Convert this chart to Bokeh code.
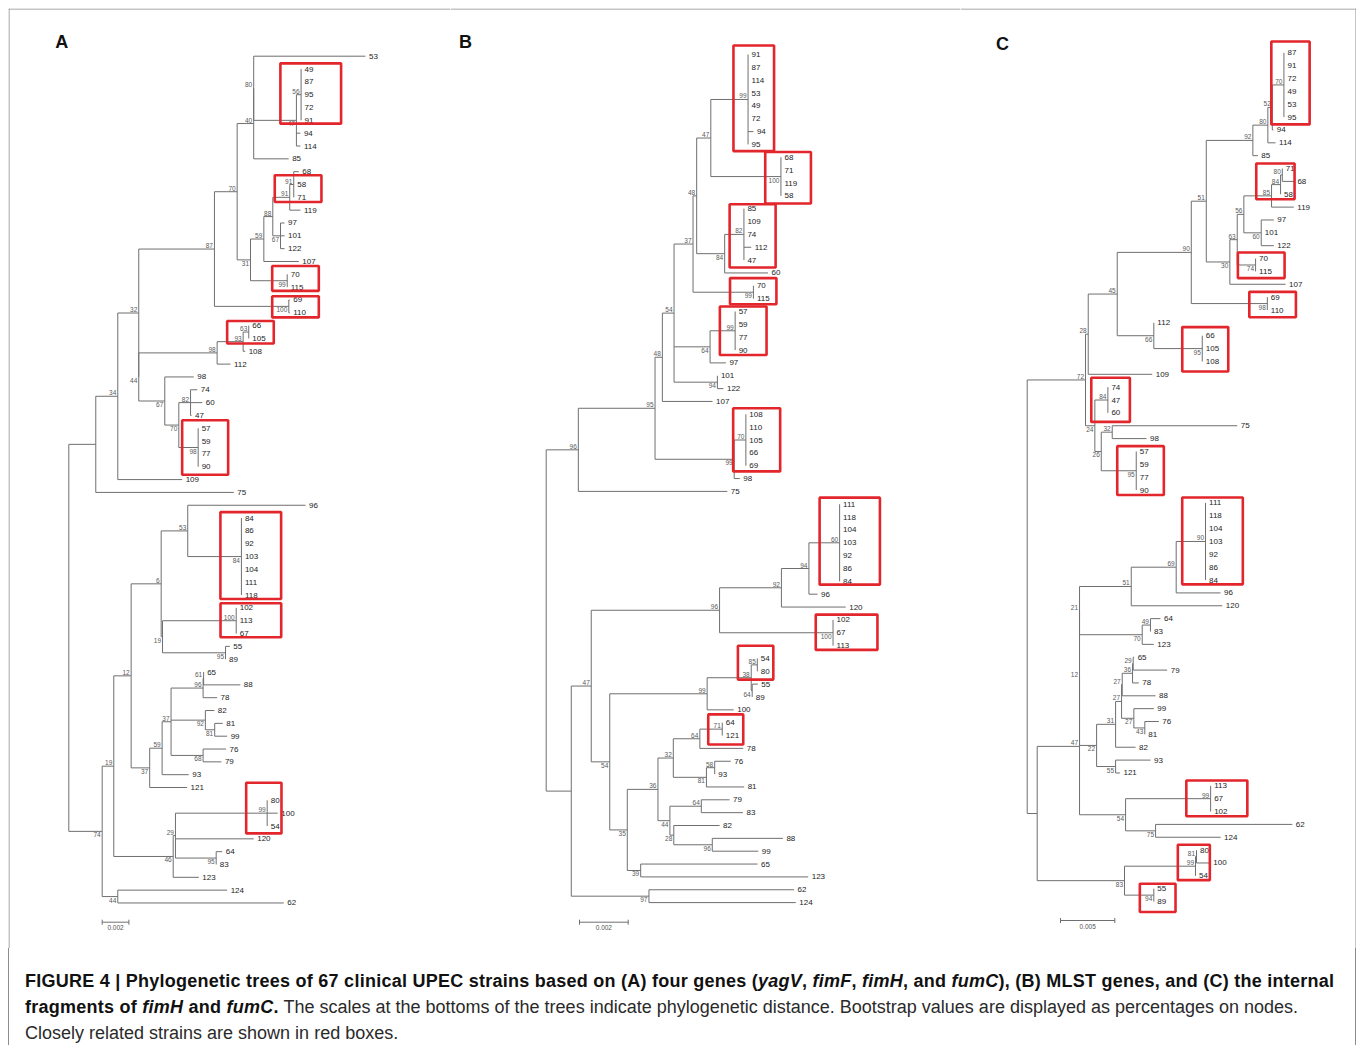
from bokeh.plotting import figure
from bokeh.models import ColumnDataSource, Range1d, Label, Div
from bokeh.layouts import row, column
from bokeh.embed import file_html
from bokeh.resources import INLINE
from bokeh.core.properties import value

# ---------------------------------------------------------------- data
# Trees in Newick form; branch lengths in units of BRANCH_UNIT substitutions/site,
# internal node labels are bootstrap percentages.
BRANCH_UNIT = 1e-4

TREE_A = """
(
  (
    (
      (
        (
          (
            (
              (53:83.7,
               ((49:0,87:0,95:0,72:0,91:0)56:3.5,94:3.0,114:3.0)47:32.0
              )80:0,
              85:26.2
            )40:12.4,
            (
              (
                (
                  ((68:3.7,58:0,71:0)91:3.0,119:8.0)91:12.7,
                  (97:3.0,101:3.0,122:3.0)67:5.8
                )88:6.7,
                107:26.2
              )59:10.0,
              (70:0,115:0)99:27.5
            )31:10.0
          )70:17.0,
          (69:0.7,110:0.7)100:55.7
        )87:56.7,
        (
          (((66:0,105:0)63:4.2,108:1.5)93:19.5,112:10.0)98:58.7,
          (98:21.7,
           ((74:5.0,60:8.8,47:0.7)82:8.8,(57:0,59:0,77:0,90:0)98:14.5)70:10.5
          )67:19.5
        )44:0
      )32:15.7,
      109:48.2
    )34:16.5,
    75:103.4
  ):20.2,
  (
    (
      (
        (
          (96:88.2,(84:0,86:0,92:0,103:0,104:0,111:0,118:0)84:40.2)53:19.9,
          ((102:0,113:0,67:0)100:55.2,(55:3.2,89:0)95:47.2)19:1.0
        )6:22.5,
        (
          (
            (
              ((65:0,88:27.5)61:0.4,78:10.5)96:24.0,
              (82:6.7,(81:6.0,99:9.3)81:7.0)92:25.7,
              (76:17.2,79:13.7)68:24.0
            )37:6.7,
            93:19.9
          )59:9.3,
          121:28.0
        )37:13.9
      )12:13.0,
      (
        ((80:0,100:7.9,54:0)99:68.7,120:58.6,(64:4.5,83:0)95:30.5)29:1.7,
        123:19.2
      )46:44.5
    )19:8.7,
    (124:81.9,62:124.3)44:11.7
  )74:25.0
);
"""

TREE_B = """
(
  (
    (
      (
        (
          (
            (
              ((91:0,87:0,114:0,53:0,49:0,72:0,94:2.2,95:0)99:15.3,
               (68:0,71:0,119:0,58:0)100:28.8)47:5.8,
              ((85:0,109:0,74:0,112:3.0,47:0)82:7.9,60:17.8)84:11.5
            )48:1.5,
            (70:0,115:0)99:24.8
          )37:7.8,
          ((57:0,59:0,77:0,90:0)99:10.3,97:6.5)64:14.8,
          (101:0,122:2.5)94:17.8
        )54:4.8,
        107:20.6
      )48:3.0,
      ((108:0,110:0,105:0,66:0,69:0)70:4.8,98:2.3)99:32.5
    )95:31.5,
    75:61.2
  )96:13.2,
  (
    (
      (
        (((111:0,118:0,104:0,103:0,92:0,86:0,84:0)60:12.6,96:3.5)94:11.3,120:26.4)92:25.4,
        (102:0,67:0,113:0)100:46.6
      )96:52.7,
      (
        (((54:0,80:0)85:2.5,(55:2.3,89:0)64:0.4)38:18.1,100:10.9)99:40.0,
        (
          (
            (((64:0,121:0)71:9.2,78:17.8)64:10.9,((76:6.6,93:0)58:3.4,81:15.5)81:13.6)32:6.3,
            ((79:11.6,83:17.1)64:12.9,(82:18.8,(88:29.0,99:18.9)96:15.8)28:1.6)44:4.9
          )36:12.6,
          (65:48.0,123:68.8)39:5.5
        )35:7.2
      )54:7.6
    )47:8.2,
    (62:59.6,124:60.3)97:31.9
  ):10.3
);
"""

TREE_C = """
(
  (
    (
      (
        (
          (
            ((((87:0,91:0,72:0,49:0,53:0,95:0)70:10.7,94:0.9)52:4.1,114:7.1)80:13.8,85:4.6)92:42.9,
            (
              (
                (
                  (((71:0,68:10.7)80:1.6,58:0)84:8.3,119:20.5)85:25.5,
                  (97:11.6,101:0,122:11.6)60:16.0
                )56:6.1,
                (70:0,115:0)74:16.9
              )63:6.8,
              107:51.3
            )30:21.7
          )51:13.8,
          (69:0,110:0)98:70.0
        )90:68.2,
        (112:0,(66:0,105:0,108:0)95:44.6)66:33.7
      )45:26.7,
      109:58.9
    )28:2.5,
    (
      (74:0,47:0,60:0)84:12.0,
      ((75:115.1,98:31.6)32:10.1,(57:0,59:0,77:0,90:0)95:32.2)26:5.9
    )24:8.6
  )72:53.7,
  (
    (
      (
        (
          (((111:0,118:0,104:0,103:0,92:0,86:0,84:0)90:27.0,96:40.8)69:41.4,120:83.8)51:47.6,
          ((64:9.2,83:0)49:7.6,123:10.7)70:57.7
        )21:0,
        (
          (
            (
              (((65:0.9,79:31.3)29:0.6,78:5.8)36:9.5,88:30.7)27:0.6,
              (99:18.4,(76:12.9,81:0)43:10.1)27:11.3
            )27:5.5,
            82:18.4
          )31:17.5,
          (93:32.2,121:4.0)55:17.5
        )22:15.7
      )12:0,
      ((113:0,67:0,102:0)99:78.3,(62:125.9,124:59.9)75:27.6)54:42.4
    )47:39.0,
    (((80:0,100:12.2)81:0.9,54:0)99:65.4,(55:0,89:0)94:27.0)83:80.4
  ):9.2
);
"""

PANEL_LETTERS = ["A", "B", "C"]
SCALE_VALUES = [0.002, 0.002, 0.005]

# closely related strains (red boxes): first and last strain of each group
BOXES_A = [("49", "91"), ("58", "71"), ("70", "115"), ("69", "110"), ("66", "105"),
           ("57", "90"), ("84", "118"), ("102", "67"), ("80", "54")]
BOXES_B = [("91", "95"), ("68", "58"), ("85", "47"), ("70", "115"), ("57", "90"),
           ("108", "69"), ("111", "84"), ("102", "113"), ("54", "80"), ("64", "121")]
BOXES_C = [("87", "95"), ("71", "58"), ("70", "115"), ("69", "110"), ("66", "108"),
           ("74", "60"), ("57", "90"), ("111", "84"), ("113", "102"), ("80", "54"), ("55", "89")]

CAPTION_BOLD_1 = ("FIGURE 4 | Phylogenetic trees of 67 clinical UPEC strains based on (A) four genes "
                  "(<i>yagV</i>, <i>fimF</i>, <i>fimH</i>, and <i>fumC</i>), (B) MLST genes, and (C) the internal")
CAPTION_BOLD_2 = "fragments of <i>fimH</i> and <i>fumC</i>."
CAPTION_TEXT_2 = (" The scales at the bottoms of the trees indicate phylogenetic distance. "
                  "Bootstrap values are displayed as percentages on nodes.")
CAPTION_TEXT_3 = "Closely related strains are shown in red boxes."

# ---------------------------------------------------------------- layout / style
FONT = "Liberation Sans"
LINE_COLOR = "#6f6f6f"
BOX_COLOR = "#e3262c"
FRAME_COLOR = "#8c8c8c"
FIG_H = 940
TOTAL_W = 1348

# box padding in pixels: (left of clade node, width, above first, below last)
BOX_PX = [
    [(20.7, 60.7, 5.7, 3.3), (19, 46.7, 9.3, 4.7), (15, 46.6, 8.3, 3.7), (16.6, 46.6, 3.7, 4.6),
     (21.6, 46.6, 4.6, 5), (16, 46, 8, 8), (21, 60.7, 6, 4), (15.7, 60.7, 4.6, 3.7), (21, 35.3, 17.6, 7.4)],
    [(14.6, 40.6, 9, 6.7), (15.7, 45.7, 5.3, 7.7), (14.3, 46, 4.4, 7.4), (23.4, 46.4, 7.7, 5.6),
     (15.3, 46.7, 5, 5), (12.7, 47, 6, 5.7), (20, 60.3, 6.6, 3.3), (17.3, 61.7, 5.3, 4.3),
     (19.4, 35.4, 12.7, 8.3), (14, 35, 8.3, 9)],
    [(12.6, 38.3, 11.3, 7.3), (24.3, 38.3, 5, 5), (17.7, 46.7, 6, 6.7), (18, 46.6, 5.3, 7.3),
     (20, 46, 8.6, 10), (16.6, 38.6, 9.4, 9), (19, 46.6, 5.3, 5), (23.3, 60.6, 5.4, 4.3),
     (24.3, 61, 5.3, 4.7), (17.7, 32, 5.4, 4.3), (14, 35.7, 5, 10.4)],
]

PANEL_LAYOUT = [
    dict(width=442, root_px=60.3, px_per_unit=26.7 / 20, top_px=47.7, row_px=12.83,
         letter=(53.3, 33.5), bar_px=33.4, bar_y_px=913.7),
    dict(width=510, root_px=95.7, px_per_unit=48.7 / 20, top_px=46.0, row_px=12.85,
         letter=(15.0, 33.0), bar_px=33.3, bar_y_px=913.7),
    dict(width=396, root_px=66.7, px_per_unit=54.3 / 50, top_px=44.3, row_px=12.86,
         letter=(42.0, 35.0), bar_px=33.3, bar_y_px=912.0),
]


def parse_newick(text):
    s = "".join(text.split()).rstrip(";")
    pos = 0

    def node():
        nonlocal pos
        n = {"children": [], "label": "", "length": 0.0}
        if s[pos] == "(":
            pos += 1
            while True:
                n["children"].append(node())
                if s[pos] == ",":
                    pos += 1
                    continue
                pos += 1  # ')'
                break
        start = pos
        while pos < len(s) and s[pos] not in ":,()":
            pos += 1
        n["label"] = s[start:pos]
        if pos < len(s) and s[pos] == ":":
            pos += 1
            start = pos
            while pos < len(s) and s[pos] not in ",()":
                pos += 1
            n["length"] = float(s[start:pos])
        return n

    return node()


def make_panel(tree_text, letter, scale_value, boxes, box_px, lay, left_frame, right_frame):
    root = parse_newick(tree_text)
    leaves, internals = [], []

    def walk(n, x):
        n["x"] = x
        if n["children"]:
            internals.append(n)
            for c in n["children"]:
                walk(c, x + c["length"])
            n["y"] = (n["children"][0]["y"] + n["children"][-1]["y"]) / 2.0
            n["lo"] = n["children"][0]["lo"]
            n["hi"] = n["children"][-1]["hi"]
        else:
            n["y"] = float(len(leaves))
            n["lo"] = n["hi"] = len(leaves)
            leaves.append(n)

    walk(root, 0.0)
    assert len(leaves) == 67, len(leaves)

    ppu = lay["px_per_unit"]
    rpx = lay["row_px"]
    W = lay["width"]
    x0r = -lay["root_px"] / ppu
    x1r = (W - lay["root_px"]) / ppu
    ytop = -lay["top_px"] / rpx
    ybot = (FIG_H - lay["top_px"]) / rpx

    p = figure(width=W, height=FIG_H, output_backend="svg", toolbar_location=None,
               x_range=Range1d(x0r, x1r), y_range=Range1d(ybot, ytop),
               x_axis_location=None, y_axis_location=None, min_border=0,
               outline_line_color=None, background_fill_color="white",
               border_fill_color="white")
    p.grid.visible = False

    # branches
    sx0, sy0, sx1, sy1 = [], [], [], []
    above = dict(x=[], y=[], t=[])
    below = dict(x=[], y=[], t=[])
    for n in internals:
        kids = n["children"]
        sx0.append(n["x"]); sy0.append(kids[0]["y"]); sx1.append(n["x"]); sy1.append(kids[-1]["y"])
        for i, c in enumerate(kids):
            sx0.append(n["x"]); sy0.append(c["y"]); sx1.append(c["x"]); sy1.append(c["y"])
            if c["children"] and c["label"]:
                d = above if i == 0 else below
                d["x"].append(c["x"]); d["y"].append(c["y"]); d["t"].append(c["label"])
    p.segment(x0="x0", y0="y0", x1="x1", y1="y1",
              source=ColumnDataSource(dict(x0=sx0, y0=sy0, x1=sx1, y1=sy1)),
              line_color=LINE_COLOR, line_width=1)

    # strain labels
    p.text(x="x", y="y", text="t",
           source=ColumnDataSource(dict(x=[l["x"] for l in leaves], y=[l["y"] for l in leaves],
                                        t=[l["label"] for l in leaves])),
           x_offset=3.5, text_align="left", text_baseline="middle",
           text_font=value(FONT), text_font_size="8px", text_color="#1c1c1c")

    # bootstrap values
    p.text(x="x", y="y", text="t", source=ColumnDataSource(above), x_offset=-1.5, y_offset=-1,
           text_align="right", text_baseline="bottom", text_font=value(FONT),
           text_font_size="6.5px", text_color="#5a5a5a")
    p.text(x="x", y="y", text="t", source=ColumnDataSource(below), x_offset=-1.5, y_offset=1,
           text_align="right", text_baseline="top", text_font=value(FONT),
           text_font_size="6.5px", text_color="#5a5a5a")

    # red boxes
    index = {l["label"]: i for i, l in enumerate(leaves)}
    bl, br, bt, bb = [], [], [], []
    for (a, b), (pad, w, tp, bp) in zip(boxes, box_px):
        ia, ib = sorted((index[a], index[b]))
        cand = [n for n in internals if n["lo"] <= ia and n["hi"] >= ib]
        m = min(cand, key=lambda n: n["hi"] - n["lo"])
        left = m["x"] - pad / ppu
        bl.append(left); br.append(left + w / ppu)
        bt.append(ia - tp / rpx); bb.append(ib + bp / rpx)
    p.quad(left="l", right="r", top="t", bottom="b",
           source=ColumnDataSource(dict(l=bl, r=br, t=bt, b=bb)),
           fill_color=None, line_color=BOX_COLOR, line_width=2.6)

    # scale bar
    xs = lay["bar_px"] / ppu
    xe = xs + scale_value / BRANCH_UNIT
    yb = (lay["bar_y_px"] - lay["top_px"]) / rpx
    tick = 2.5 / rpx
    p.segment(x0=[xs, xs, xe], y0=[yb, yb - tick, yb - tick], x1=[xe, xs, xe], y1=[yb, yb + tick, yb + tick],
              line_color=LINE_COLOR, line_width=1)
    p.text(x=[(xs + xe) / 2], y=[yb], text=[str(scale_value)], y_offset=3,
           text_align="center", text_baseline="top", text_font=value(FONT),
           text_font_size="6.5px", text_color="#555555")

    # frame
    fy = ytop + 0.5 / rpx
    p.segment(x0=[x0r], y0=[fy], x1=[x1r], y1=[fy], line_color=FRAME_COLOR, line_width=1)
    if left_frame:
        fx = x0r + 0.5 / ppu
        p.segment(x0=[fx], y0=[ytop], x1=[fx], y1=[ybot], line_color=FRAME_COLOR, line_width=1)
    if right_frame:
        fx = x1r - 0.5 / ppu
        p.segment(x0=[fx], y0=[ytop], x1=[fx], y1=[ybot], line_color=FRAME_COLOR, line_width=1)

    # panel letter
    lx, ly = lay["letter"]
    p.add_layout(Label(x=lx, y=FIG_H - ly, x_units="screen", y_units="screen", text=letter,
                       text_align="center", text_baseline="middle", text_font=FONT,
                       text_font_style="bold", text_font_size="18px", text_color="#111111"))
    return p


panels = []
for k, (tree, letter, sv, boxes) in enumerate(zip([TREE_A, TREE_B, TREE_C], PANEL_LETTERS,
                                                   SCALE_VALUES, [BOXES_A, BOXES_B, BOXES_C])):
    panels.append(make_panel(tree, letter, sv, boxes, BOX_PX[k], PANEL_LAYOUT[k],
                             left_frame=(k == 0), right_frame=(k == 2)))

caption_html = (
    '<div style="box-sizing:border-box;height:97px;width:%dpx;'
    'border-left:1px solid %s;border-right:1px solid %s;'
    'padding:20px 0 0 16px;font-family:\'Liberation Sans\',Arial,sans-serif;'
    'font-size:18px;line-height:26px;color:#2a2a2a;white-space:nowrap;">'
    '<b style="color:#111;letter-spacing:0.25px">%s</b><br>'
    '<b style="color:#111;letter-spacing:0.25px">%s</b>%s<br>%s</div>'
) % (TOTAL_W, FRAME_COLOR, FRAME_COLOR, CAPTION_BOLD_1, CAPTION_BOLD_2, CAPTION_TEXT_2, CAPTION_TEXT_3)

caption = Div(text=caption_html, width=TOTAL_W, height=97, margin=0)

layout = column(row(*panels, spacing=0), caption, spacing=0, margin=(8, 0, 0, 8))
open("out.html", "w").write(file_html(layout, INLINE))
